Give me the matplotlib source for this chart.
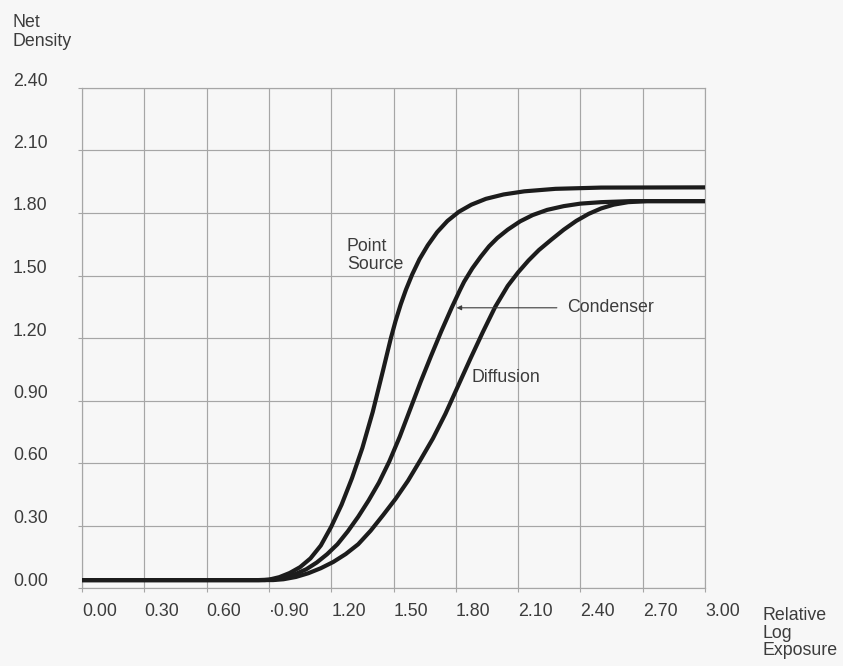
import matplotlib
matplotlib.use("Agg")
import matplotlib.pyplot as plt
from matplotlib.transforms import blended_transform_factory, ScaledTranslation

plt.rcParams['font.family'] = ['Liberation Sans', 'DejaVu Sans']

# ---- data ----
x_ticks = [0.0, 0.3, 0.6, 0.9, 1.2, 1.5, 1.8, 2.1, 2.4, 2.7, 3.0]
x_tick_labels = ["0.00", "0.30", "0.60", "·0.90", "1.20", "1.50", "1.80", "2.10", "2.40", "2.70", "3.00"]
y_ticks = [0.0, 0.3, 0.6, 0.9, 1.2, 1.5, 1.8, 2.1, 2.4]
y_tick_labels = ["0.00", "0.30", "0.60", "0.90", "1.20", "1.50", "1.80", "2.10", "2.40"]

point_x = [0.00, 0.50, 0.85, 0.90, 0.95, 1.00, 1.05, 1.10, 1.15, 1.20, 1.25, 1.30, 1.35, 1.40,
           1.45, 1.487, 1.510, 1.535, 1.560, 1.590, 1.625, 1.665, 1.710, 1.760, 1.815, 1.875,
           1.945, 2.030, 2.130, 2.280, 2.500, 3.000]
point_d = [0.038, 0.038, 0.038, 0.040, 0.052, 0.072, 0.100, 0.142, 0.204, 0.294, 0.400, 0.527,
           0.672, 0.845, 1.046, 1.198, 1.282, 1.362, 1.432, 1.505, 1.578, 1.645, 1.708, 1.762,
           1.806, 1.840, 1.868, 1.889, 1.904, 1.916, 1.922, 1.923]

cond_x = [0.00, 0.50, 0.88, 0.93, 0.98, 1.03, 1.08, 1.13, 1.18, 1.23, 1.28, 1.33, 1.38, 1.43,
          1.48, 1.53, 1.58, 1.63, 1.68, 1.73, 1.78, 1.82, 1.84, 1.88, 1.92, 1.96, 2.00, 2.05,
          2.11, 2.17, 2.24, 2.32, 2.40, 2.50, 2.64, 3.00]
cond_d = [0.038, 0.038, 0.038, 0.042, 0.052, 0.068, 0.090, 0.122, 0.162, 0.210, 0.272, 0.342,
          0.420, 0.506, 0.608, 0.726, 0.857, 0.988, 1.112, 1.232, 1.345, 1.430, 1.470, 1.535,
          1.590, 1.640, 1.680, 1.720, 1.760, 1.790, 1.815, 1.833, 1.845, 1.852, 1.857, 1.857]

diff_x = [0.00, 0.50, 0.92, 0.97, 1.03, 1.09, 1.15, 1.21, 1.27, 1.33, 1.39, 1.45, 1.51, 1.57,
          1.63, 1.69, 1.75, 1.81, 1.87, 1.93, 1.99, 2.05, 2.10, 2.15, 2.20, 2.26, 2.32, 2.38,
          2.44, 2.50, 2.56, 2.63, 2.72, 3.00]
diff_d = [0.038, 0.038, 0.038, 0.042, 0.053, 0.071, 0.095, 0.125, 0.163, 0.210, 0.275, 0.350,
          0.428, 0.515, 0.615, 0.718, 0.836, 0.968, 1.100, 1.228, 1.350, 1.450, 1.515, 1.572,
          1.622, 1.672, 1.720, 1.762, 1.796, 1.822, 1.840, 1.852, 1.857, 1.857]

bg = '#f7f7f7'
grid_c = '#a6a6a6'
text_c = '#3c3c3c'
curve_c = '#1c1c1c'

fig = plt.figure(figsize=(8.43, 6.66), dpi=100, facecolor=bg)
ax = fig.add_axes([82/843, 1 - 588/666, (705-82)/843, (588-88)/666])
ax.set_facecolor(bg)
ax.set_xlim(0, 3.0)
ax.set_ylim(0, 2.4)

for v in x_ticks:
    ax.axvline(v, color=grid_c, lw=0.85, zorder=1)
for v in y_ticks:
    ax.axhline(v, color=grid_c, lw=0.85, zorder=1)
for s in ax.spines.values():
    s.set_color(grid_c)
    s.set_linewidth(0.85)

ax.set_xticks(x_ticks)
ax.set_yticks(y_ticks)
ax.set_xticklabels([])
ax.set_yticklabels([])
ax.tick_params(axis='both', direction='out', length=3, width=0.8, color=grid_c)

for xs, ds in [(point_x, point_d), (cond_x, cond_d), (diff_x, diff_d)]:
    ax.plot(xs, ds, color=curve_c, lw=3.0, solid_capstyle='butt', solid_joinstyle='round',
            antialiased=True, zorder=3)

# tick labels
fs = 12.8
xt = blended_transform_factory(ax.transData, fig.transFigure)
for v, lab in zip(x_ticks, x_tick_labels):
    ax.text(v, 1 - 611/666, lab, transform=xt, ha='left', va='center', fontsize=fs, color=text_c)
yt = blended_transform_factory(fig.transFigure, ax.transData) + ScaledTranslation(0, 7/100, fig.dpi_scale_trans)
for v, lab in zip(y_ticks, y_tick_labels):
    ax.text(13/843, v, lab, transform=yt, ha='left', va='center', fontsize=fs, color=text_c)

# axis titles
fig.text(13/843, 1 - 32/666, "Net\nDensity", ha='left', va='center', fontsize=fs, color=text_c, linespacing=1.1)
fig.text(762/843, 1 - 633/666, "Relative\nLog\nExposure", ha='left', va='center', fontsize=fs, color=text_c, linespacing=1.05)

# annotations
ax.text(1.275, 1.595, "Point\nSource", ha='left', va='center', fontsize=fs, color=text_c, linespacing=1.1, zorder=4)
ax.text(1.875, 1.01, "Diffusion", ha='left', va='center', fontsize=fs, color=text_c, zorder=4)
ax.text(2.335, 1.345, "Condenser", ha='left', va='center', fontsize=fs, color=text_c, zorder=4)
ax.annotate("", xy=(1.79, 1.345), xytext=(2.30, 1.345),
            arrowprops=dict(arrowstyle='-|>', color=text_c, lw=0.8, mutation_scale=7), zorder=4)

fig.savefig("out.png", dpi=100, facecolor=bg)
